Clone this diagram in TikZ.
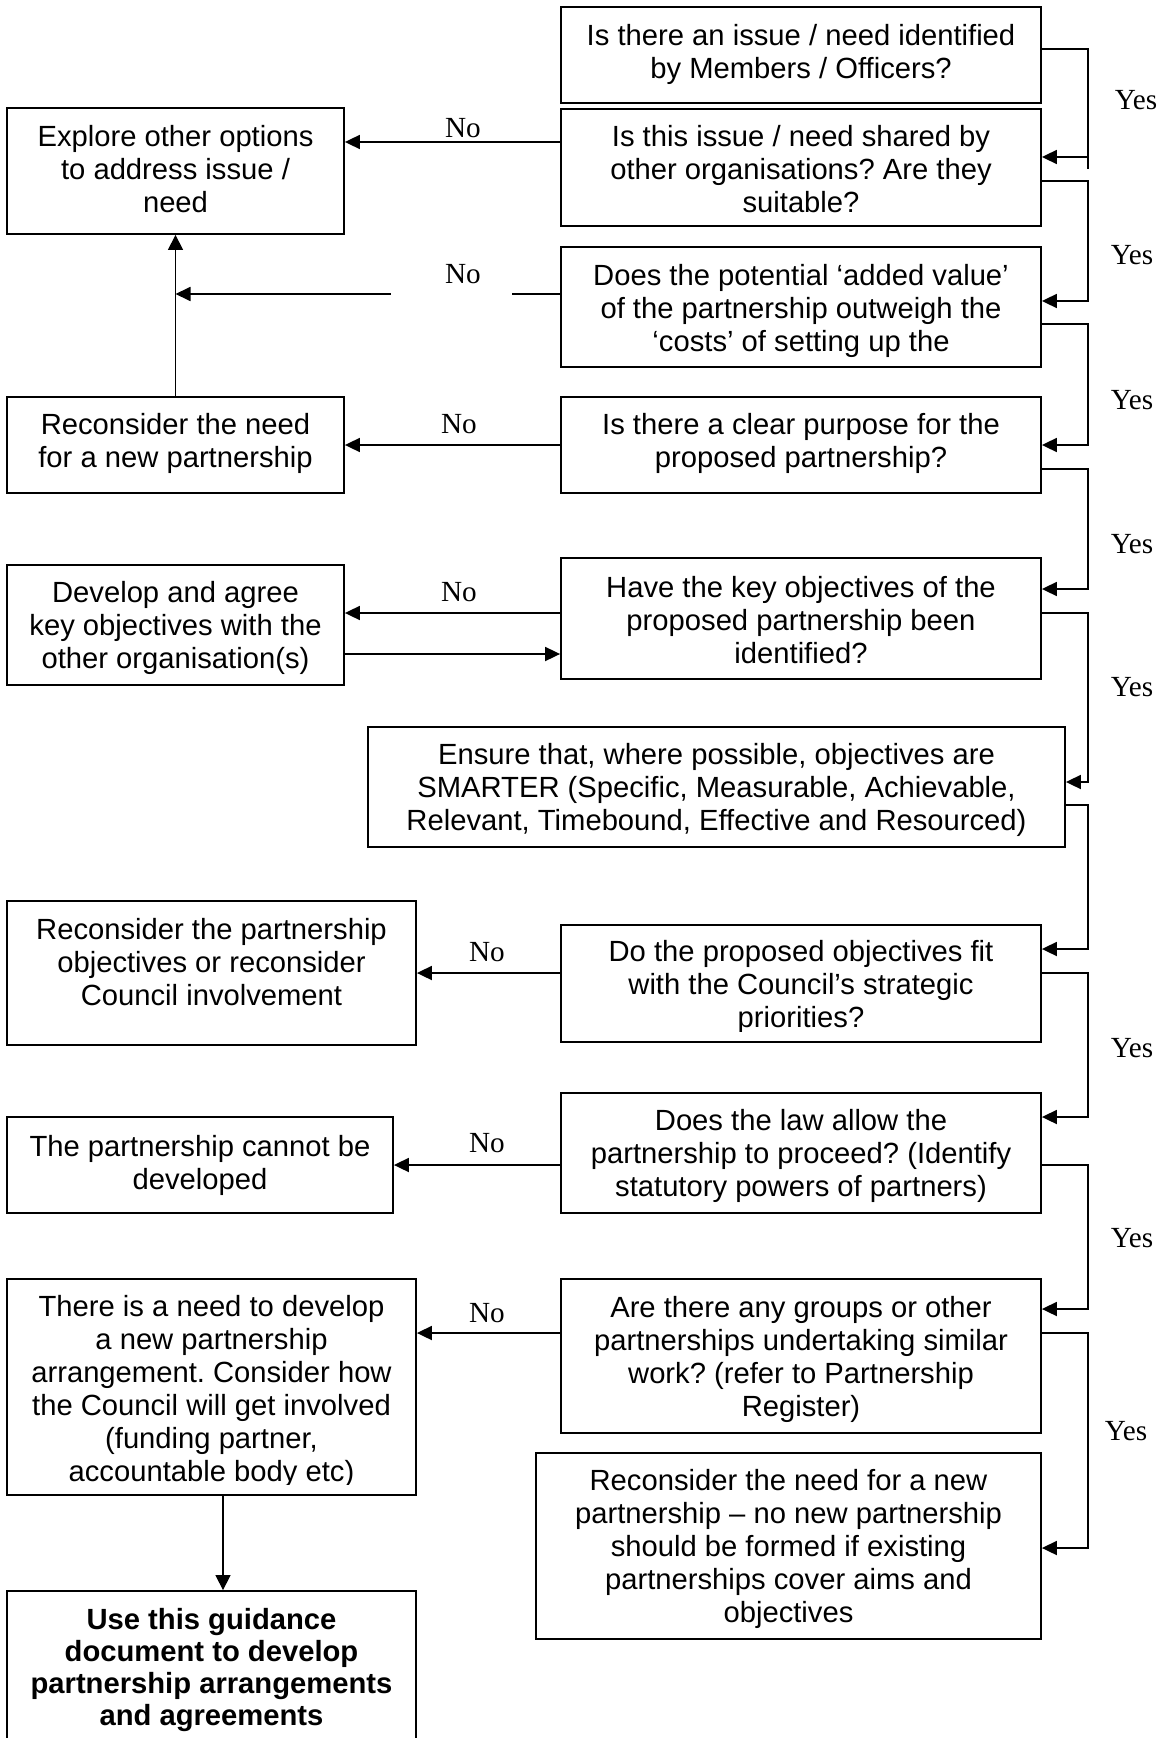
\documentclass[tikz,border=0pt]{standalone}
\usepackage{fontspec}
\setmainfont{Liberation Sans}
\newfontfamily\labelserif{Liberation Serif}
\usetikzlibrary{arrows.meta,fit}
\frenchspacing

\begin{document}
\begin{tikzpicture}[x=0.5pt,y=-0.5pt,
  box/.style={draw, line width=0.9pt, inner sep=0pt},
  txt/.style={align=center, inner sep=0pt, font=\fontsize{14.6}{16.5}\selectfont\frenchspacing,
    execute at begin node=\strut, execute at end node=\strut},
  boldtxt/.style={txt, font=\fontsize{14.6}{16}\selectfont\bfseries\frenchspacing},
  conn/.style={line width=0.9pt},
  arr/.style={conn, -{Triangle[length=7.5pt,width=7pt]}},
  thinarr/.style={line width=0.6pt, -{Triangle[length=7.5pt,width=7.5pt]}},
  lab/.style={font=\labelserif\fontsize{14.6}{16.5}\selectfont, inner sep=0pt}
]
\useasboundingbox (0,0) rectangle (1160,1738);
\clip (0,0) rectangle (1160,1738);

% ---- question boxes (right column) ----
\node[box, fit={(561,7) (1041,103)}] (b1) {};
\node[box, fit={(561,109) (1041,226)}] (b2) {};
\node[box, fit={(561,247) (1041,367)}] (b3) {};
\node[box, fit={(561,397) (1041,493)}] (b4) {};
\node[box, fit={(561,558) (1041,679)}] (b5) {};
\node[box, fit={(368,727) (1065,847)}] (sm) {};
\node[box, fit={(561,925) (1041,1042)}] (b6) {};
\node[box, fit={(561,1093) (1041,1213)}] (b7) {};
\node[box, fit={(561,1279) (1041,1433)}] (b8) {};
\node[box, fit={(536,1453) (1041,1639)}] (fin) {};

% ---- outcome boxes (left column) ----
\node[box, fit={(7,108) (344,234)}] (ex) {};
\node[box, fit={(7,397) (344,493)}] (r1) {};
\node[box, fit={(7,565) (344,685)}] (dv) {};
\node[box, fit={(7,901) (416,1045)}] (r2) {};
\node[box, fit={(7,1117) (393,1213)}] (cn) {};
\node[box, fit={(7,1279) (416,1495)}] (nd) {};
\node[box, fit={(7,1591) (416,1770)}] (us) {};

% ---- box texts ----
\node[txt] (b1t) at (801,56) {Is there an issue / need identified\\by Members / Officers?};
\node[txt] (b2t) at (801,174) {Is this issue / need shared by\\other organisations? Are they\\suitable?};
\node[txt] (b3t) at (801,313) {Does the potential ‘added value’\\of the partnership outweigh the\\‘costs’ of setting up the};
\node[txt] (b4t) at (801,445) {Is there a clear purpose for the\\proposed partnership?};
\node[txt] (b5t) at (801,625) {Have the key objectives of the\\proposed partnership been\\identified?};
\node[txt] (smt) at (716.5,792) {Ensure that, where possible, objectives are\\SMARTER (Specific, Measurable, Achievable,\\Relevant, Timebound, Effective and Resourced)};
\begin{scope}
  \clip (561,925) rectangle (1041,1031);
  \node[txt] (b6t) at (801,989) {Do the proposed objectives fit\\with the Council’s strategic\\priorities?};
\end{scope}
\node[txt] (b7t) at (801,1158) {Does the law allow the\\partnership to proceed? (Identify\\statutory powers of partners)};
\node[txt] (b8t) at (801,1361) {Are there any groups or other\\partnerships undertaking similar\\work? (refer to Partnership\\Register)};
\node[txt] (fint) at (788.5,1551) {Reconsider the need for a new\\partnership – no new partnership\\should be formed if existing\\partnerships cover aims and\\objectives};

\node[txt] (ext) at (175.5,174) {Explore other options\\to address issue /\\need};
\node[txt] (r1t) at (175.5,445) {Reconsider the need\\for a new partnership};
\node[txt] (dvt) at (175.5,630) {Develop and agree\\key objectives with the\\other organisation(s)};
\node[txt] (r2t) at (211.5,967) {Reconsider the partnership\\objectives or reconsider\\Council involvement};
\node[txt] (cnt) at (200,1167) {The partnership cannot be\\developed};
\begin{scope}
  \clip (7,1279) rectangle (416,1484);
  \node[txt] (ndt) at (211.5,1393) {There is a need to develop\\a new partnership\\arrangement. Consider how\\the Council will get involved\\(funding partner,\\accountable body etc)};
\end{scope}
\node[boldtxt] (ust) at (211.5,1672) {Use this guidance\\document to develop\\partnership arrangements\\and agreements};

% ---- "Yes" connectors down the right-hand rail ----
\draw[conn] (b1.east |- 0,49) -| (1088,169);
\draw[arr] (1088,157) -- (b2.east |- 0,157);
\draw[arr] (b2.east |- 0,181) -| (1088,301) -- (b3.east |- 0,301);
\draw[arr] (b3.east |- 0,324) -| (1088,445) -- (b4.east |- 0,445);
\draw[arr] (b4.east |- 0,469) -| (1088,589) -- (b5.east |- 0,589);
\draw[arr] (b5.east |- 0,613) -| (1088,782) -- (sm.east |- 0,782);
\draw[arr] (sm.east |- 0,805) -| (1088,949) -- (b6.east |- 0,949);
\draw[arr] (b6.east |- 0,973) -| (1088,1117) -- (b7.east |- 0,1117);
\draw[arr] (b7.east |- 0,1165) -| (1088,1309) -- (b8.east |- 0,1309);
\draw[arr] (b8.east |- 0,1333) -| (1088,1548) -- (fin.east |- 0,1548);

% ---- "No" connectors to the left ----
\draw[arr] (b2.west |- 0,142) -- (ex.east |- 0,142);
\draw[arr] (b3.west |- 0,294) -- (ex.south |- 0,294);
\fill[white] (391,290) rectangle (512,298);
\draw[thinarr] (r1.north) -- (ex.south);
\draw[arr] (b4.west |- 0,445) -- (r1.east |- 0,445);
\draw[arr] (b5.west |- 0,613) -- (dv.east |- 0,613);
\draw[arr] (dv.east |- 0,654) -- (b5.west |- 0,654);
\draw[arr] (b6.west |- 0,973) -- (r2.east |- 0,973);
\draw[arr] (b7.west |- 0,1165) -- (cn.east |- 0,1165);
\draw[arr] (b8.west |- 0,1333) -- (nd.east |- 0,1333);
\draw[thinarr] (nd.south -| 223,0) -- (us.north -| 223,0);

% ---- connector labels ----
\node[lab] (no1) at (463,128) {No};
\node[lab] (no2) at (463,274) {No};
\node[lab] (no3) at (459,424) {No};
\node[lab] (no4) at (459,592) {No};
\node[lab] (no5) at (487,952) {No};
\node[lab] (no6) at (487,1143) {No};
\node[lab] (no7) at (487,1313) {No};

\node[lab] (yes1) at (1136,100) {Yes};
\node[lab] (yes2) at (1132,255) {Yes};
\node[lab] (yes3) at (1132,400) {Yes};
\node[lab] (yes4) at (1132,544) {Yes};
\node[lab] (yes5) at (1132,687) {Yes};
\node[lab] (yes6) at (1132,1048) {Yes};
\node[lab] (yes7) at (1132,1238) {Yes};
\node[lab] (yes8) at (1126,1431) {Yes};
\end{tikzpicture}
\end{document}
